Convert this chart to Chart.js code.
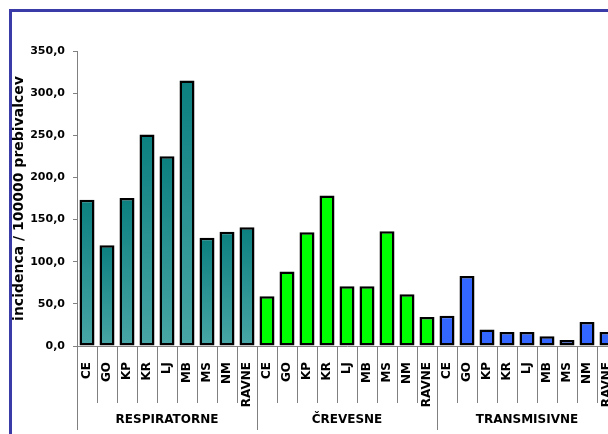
<!DOCTYPE html>
<html>
<head>
<meta charset="utf-8">
<script src="https://cdn.jsdelivr.net/npm/chart.js@4"></script>
<style>
    html, body { margin: 0; padding: 0; background: #fff; overflow: hidden; }
    #frame {
        position: absolute; left: 9px; top: 9px;
        width: 660px; height: 500px;
        border: 3px solid #3a3aa8;
    }
    #chart { position: absolute; left: 0; top: 0; }
</style>
</head>
<body>
<div id="frame"></div>
<canvas id="chart" width="640" height="470"></canvas>
<script>
const regions = ['CE', 'GO', 'KP', 'KR', 'LJ', 'MB', 'MS', 'NM', 'RAVNE'];
const groups = ['RESPIRATORNE', 'ČREVESNE', 'TRANSMISIVNE'];

const respiratorne = [173.5, 119.5, 175.5, 251.0, 225.0, 315.0, 128.5, 135.5, 141.0];
const crevesne = [59.0, 88.5, 135.0, 178.5, 71.0, 71.0, 136.0, 61.5, 34.5];
const transmisivne = [36.0, 83.0, 19.5, 16.5, 16.5, 11.5, 7.0, 28.5, 16.5];

const yTicks = [0, 50, 100, 150, 200, 250, 300, 350];

const groupValues = [respiratorne, crevesne, transmisivne];
const labels = [];
const values = [];
const groupOf = [];
groupValues.forEach((vals, g) => {
    regions.forEach((r, i) => {
        labels.push(r);
        values.push(vals[i]);
        groupOf.push(g);
    });
});

const FONT = '"DejaVu Sans", Verdana, sans-serif';

function barColor(ctx) {
    const g = groupOf[ctx.dataIndex];
    if (g === 1) return '#00ff00';
    if (g === 2) return '#3366ff';
    const chart = ctx.chart;
    if (!chart.chartArea || ctx.raw == null) return '#2a9292';
    const y = chart.scales.y.getPixelForValue(ctx.raw);
    const base = chart.scales.y.getPixelForValue(0);
    const grad = chart.ctx.createLinearGradient(0, y, 0, base);
    grad.addColorStop(0, '#0b7f7f');
    grad.addColorStop(1, '#49a6a6');
    return grad;
}

// separators and group names under the category labels
const groupAxis = {
    id: 'groupAxis',
    afterDraw(chart) {
        const x = chart.scales.x;
        const ctx = chart.ctx;
        const step = x.width / labels.length;
        const top = x.top;
        ctx.save();
        ctx.strokeStyle = '#808080';
        ctx.lineWidth = 1;
        for (let i = 0; i <= labels.length; i++) {
            const px = Math.round(x.getPixelForValue(i) - step / 2) + 0.5;
            const isGroup = i % regions.length === 0;
            ctx.beginPath();
            ctx.moveTo(px, top);
            ctx.lineTo(px, isGroup ? top + 84 : top + 57);
            ctx.stroke();
        }
        ctx.fillStyle = '#000';
        ctx.font = 'bold 12px ' + FONT;
        ctx.textAlign = 'center';
        ctx.textBaseline = 'middle';
        groups.forEach((name, g) => {
            const first = g * regions.length;
            const last = first + regions.length - 1;
            const cx = (x.getPixelForValue(first) + x.getPixelForValue(last)) / 2;
            ctx.fillText(name, cx, top + 74);
        });
        ctx.restore();
    }
};

new Chart(document.getElementById('chart'), {
    type: 'bar',
    data: {
        labels: labels,
        datasets: [{
            data: values,
            backgroundColor: barColor,
            borderColor: '#000',
            borderWidth: 2.5,
            borderSkipped: false,
            barPercentage: 0.75,
            categoryPercentage: 1.0,
        }]
    },
    options: {
        responsive: false,
        animation: false,
        layout: { padding: { top: 51, right: 23, left: 0, bottom: 0 } },
        plugins: {
            legend: { display: false },
            tooltip: { enabled: false },
        },
        scales: {
            x: {
                grid: { display: false },
                border: { color: '#808080', width: 1 },
                ticks: {
                    minRotation: 90,
                    maxRotation: 90,
                    autoSkip: false,
                    padding: 8,
                    color: '#000',
                    font: { family: FONT, size: 12, weight: 'bold' },
                },
                afterFit(scale) { scale.height = 124; },
            },
            y: {
                min: 0,
                max: 350,
                afterBuildTicks(scale) {
                    scale.ticks = yTicks.map(v => ({ value: v }));
                },
                grid: { drawOnChartArea: false, tickLength: 4, color: '#808080' },
                border: { color: '#808080', width: 1 },
                ticks: {
                    padding: 8,
                    color: '#000',
                    font: { family: FONT, size: 11, weight: 'bold' },
                    callback: v => v.toFixed(1).replace('.', ','),
                },
                title: {
                    display: true,
                    text: 'incidenca / 100000 prebivalcev',
                    color: '#000',
                    padding: { top: 11, bottom: 0 },
                    font: { family: FONT, size: 14, weight: 'bold' },
                },
                afterFit(scale) { scale.width = 77; },
            }
        }
    },
    plugins: [groupAxis]
});
</script>
</body>
</html>
